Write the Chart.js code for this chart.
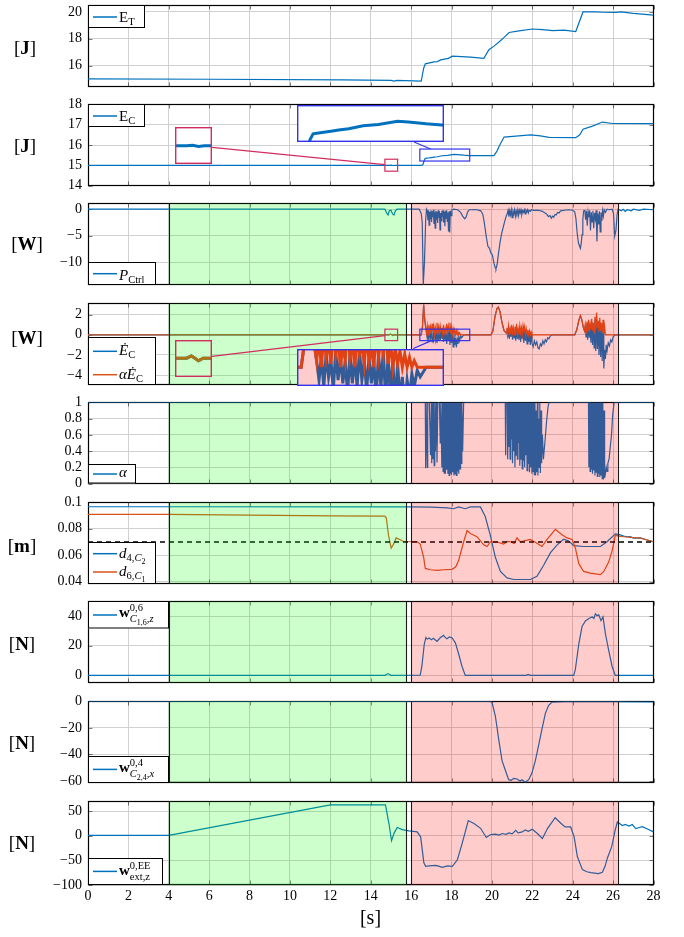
<!DOCTYPE html>
<html><head><meta charset="utf-8">
<script src="https://cdn.jsdelivr.net/npm/chart.js@4.4.1/dist/chart.umd.min.js"></script>
<style>
html,body{margin:0;padding:0;background:#fff}
#root{position:relative;width:684px;height:937px;overflow:hidden;background:#fff}
canvas{position:absolute;left:0}
.u{position:absolute;transform:translate(-50%,-50%);font-family:"Liberation Serif",serif;font-size:19px;color:#000;white-space:nowrap;line-height:1}
</style></head><body><div id="root"></div>
<script>
const BLUE='#0072BD', ORANGE='#D95319';
const xTicks=[0,2,4,6,8,10,12,14,16,18,20,22,24,26,28];
const greenSpan=[4,15.77], redSpan=[16.0,26.23];

const yTicksET=[16,18,20], yTicksEC=[14,15,16,17,18], yTicksP=[-10,-5,0], yTicksEdot=[-4,-2,0,2],
      yTicksAlpha=[0,0.2,0.4,0.6,0.8,1], yTicksD=[0.04,0.06,0.08,0.1], yTicksW16=[0,20,40],
      yTicksW24=[-60,-40,-20,0], yTicksWext=[-100,-50,0,50];

const ET=[[0,15.0],[6,14.98],[12.6,14.93],[15.0,14.9],[15.15,14.84],[15.3,14.9],[16.5,14.84],[16.62,15.8],[16.7,16.13],[17.13,16.28],[17.3,16.3],[17.46,16.42],[17.84,16.54],[18.04,16.7],[18.5,16.67],[18.95,16.63],[19.6,16.54],[19.85,17.18],[20.1,17.45],[20.35,17.76],[20.6,18.1],[20.85,18.47],[21.34,18.59],[22.0,18.73],[22.5,18.68],[23.0,18.61],[23.57,18.64],[24.15,18.54],[24.51,20.0],[25.14,20.0],[25.5,19.98],[26.13,19.97],[26.4,20.0],[27,19.9],[28,19.77]];

const EC=[[0,15.0],[14,15.0],[14.9,15.0],[15.0,15.01],[15.1,14.99],[15.2,15.0],[16.5,15.0],[16.58,15.03],[16.65,15.25],[16.7,15.34],[16.85,15.36],[17.0,15.38],[17.13,15.4],[17.3,15.42],[17.54,15.47],[17.8,15.49],[18.12,15.54],[18.3,15.53],[18.6,15.5],[18.86,15.48],[20.1,15.48],[20.25,15.7],[20.35,15.93],[20.6,16.39],[21.18,16.44],[21.92,16.5],[22.4,16.45],[22.83,16.38],[24.15,16.36],[24.35,16.5],[24.51,16.78],[24.98,16.93],[25.47,17.13],[25.97,17.06],[28,17.05]];

const PC=[[0,0],[14.7,0],[14.8,-0.8],[14.86,-1.1],[14.92,-0.3],[15.0,-0.2],[15.08,-0.9],[15.15,-1.1],[15.22,-0.3],[15.3,0],[16.4,0],[16.5,-0.8],[16.55,-2.5],[16.6,-14.3],[16.66,-10],[16.72,-2],[16.76,0],
[16.8,-0.3],[16.83,-2.1],[16.86,-0.2],[16.89,-3.0],[16.92,-0.5],[16.95,-1.8],[16.98,-0.2],[17.01,-2.4],[17.04,-0.4],[17.07,-1.5],[17.1,-0.1],[17.13,-2.8],[17.16,-0.6],[17.19,-3.6],[17.22,-0.3],[17.25,-1.9],[17.28,-0.5],[17.31,-2.6],[17.34,-0.2],[17.37,-1.6],[17.4,-0.4],[17.43,-3.9],[17.46,-0.7],[17.49,-2.2],[17.52,-0.3],[17.55,-1.4],[17.58,-0.2],[17.61,-2.5],[17.64,-0.5],[17.67,-3.2],[17.7,-0.3],[17.73,-1.7],[17.76,-0.2],[17.79,-2.3],[17.82,-0.6],[17.85,-4.2],[17.88,-0.4],[17.91,-4.4],[17.94,-0.3],[17.98,-1.2],[18.02,-0.1],[18.1,0],[18.3,-0.1],[18.45,-0.6],[18.55,-1.3],[18.65,-1.8],[18.72,-1.5],[18.8,-0.5],[18.88,-0.1],[19.0,-0.1],[19.2,-0.05],[19.45,-0.3],[19.55,-1.0],[19.62,-2.5],[19.72,-5.2],[19.8,-7.0],[19.88,-7.4],[19.95,-8.3],[20.02,-8.6],[20.1,-10.2],[20.16,-11.0],[20.2,-11.3],[20.26,-10.4],[20.32,-8.5],[20.4,-6.3],[20.48,-4.6],[20.56,-3.4],[20.62,-2.5],[20.7,-1.4],[20.76,-0.8],
[20.8,-0.2],[20.84,-1.4],[20.88,-0.3],[20.92,-1.1],[20.96,-0.1],[21.0,-1.6],[21.04,-0.4],[21.08,-0.9],[21.12,-0.1],[21.16,-1.3],[21.2,-0.3],[21.24,-0.8],[21.28,-0.1],[21.32,-1.2],[21.36,-0.2],[21.4,-0.7],[21.44,-0.1],[21.48,-1.0],[21.52,-0.3],[21.56,-0.6],[21.6,-0.1],[21.64,-0.9],[21.68,-0.2],[21.72,-0.5],[21.76,-0.1],[21.8,-0.7],[21.84,-0.2],[21.9,-0.4],[21.96,-0.1],[22.05,-0.2],[22.3,-0.2],[22.5,-0.4],[22.7,-0.9],[22.8,-1.4],[22.88,-1.2],[22.94,-1.7],[23.0,-1.3],[23.06,-1.5],[23.12,-1.0],[23.18,-1.1],[23.25,-0.6],[23.32,-0.7],[23.4,-0.3],[23.6,-0.2],[23.8,-0.1],[24.0,-0.2],[24.1,-0.5],[24.16,-1.8],[24.22,-4.5],[24.28,-6.3],[24.34,-7.0],[24.38,-7.4],[24.42,-6.5],[24.46,-4.8],[24.5,-2.0],[24.54,-0.3],
[24.6,-0.2],[24.64,-2.0],[24.68,-0.3],[24.72,-3.1],[24.76,-0.5],[24.8,-1.5],[24.84,-0.2],[24.88,-4.0],[24.92,-0.6],[24.96,-2.4],[25.0,-0.3],[25.04,-3.6],[25.08,-0.7],[25.12,-1.8],[25.16,-0.2],[25.2,-6.1],[25.24,-0.8],[25.28,-2.9],[25.32,-0.4],[25.36,-4.3],[25.4,-0.6],[25.44,-2.2],[25.48,-0.3],[25.52,-1.3],[25.56,-0.1],[25.62,-0.6],[25.7,0],[25.8,-0.1],[25.95,0],[26.02,-0.8],[26.08,-5.1],[26.14,-4.0],[26.2,-0.9],[26.25,0],[26.4,-0.3],[26.5,0],[26.6,-0.4],[26.7,-0.1],[26.9,-0.3],[27.0,0],[27.3,-0.2],[27.5,0],[28,-0.1]];

const dEC=[[0,0],[14.9,0],[14.98,0.07],[15.04,0],[15.1,-0.08],[15.18,0],[16.5,0],[16.56,0.8],[16.62,3.0],[16.66,1.8],[16.72,0.7],[16.76,0.2],
[16.8,-0.4],[16.84,0.3],[16.88,-0.6],[16.92,0.4],[16.96,-0.3],[17.0,0.2],[17.04,-0.7],[17.08,0.5],[17.12,-0.4],[17.16,0.3],[17.2,-0.5],[17.24,0.2],[17.28,-0.8],[17.32,0.4],[17.36,-0.5],[17.4,0.3],[17.44,-0.6],[17.48,0.5],[17.52,-0.4],[17.56,0.2],[17.6,-0.7],[17.64,0.3],[17.68,-0.5],[17.72,0.2],[17.76,-0.9],[17.8,0.4],[17.84,-0.6],[17.88,0.5],[17.92,-1.0],[17.96,0.3],[18.0,-0.8],[18.04,0.2],[18.08,-1.2],[18.12,0.1],[18.16,-1.0],[18.2,-0.3],[18.24,-1.25],[18.28,-0.4],[18.32,-0.9],[18.36,-0.2],[18.4,-0.6],[18.45,-0.1],[18.5,-0.3],[18.6,0],
[19.95,0],[20.05,0.4],[20.15,1.8],[20.25,2.6],[20.32,2.75],[20.4,2.3],[20.5,1.2],[20.6,0.4],[20.7,0.2],
[20.74,0.5],[20.78,-0.3],[20.82,0.6],[20.86,-0.4],[20.9,0.4],[20.94,-0.2],[20.98,0.7],[21.02,-0.5],[21.06,0.5],[21.1,-0.3],[21.14,0.6],[21.18,-0.6],[21.22,0.7],[21.26,-0.4],[21.3,0.4],[21.34,-0.5],[21.38,0.6],[21.42,-0.7],[21.46,0.5],[21.5,-0.4],[21.54,0.6],[21.58,-0.8],[21.62,0.5],[21.66,-0.6],[21.7,0.4],[21.74,-0.9],[21.78,0.3],[21.82,-0.7],[21.86,0.2],[21.9,-1.0],[21.94,0.1],[21.98,-0.8],[22.04,-1.2],[22.1,-0.6],[22.16,-1.0],[22.22,-0.7],[22.28,-1.3],[22.34,-1.4],[22.4,-0.9],[22.46,-1.1],[22.52,-0.6],[22.58,-0.9],[22.64,-0.5],[22.7,-0.7],[22.76,-0.3],[22.82,-0.4],[22.9,-0.1],[23.0,0],
[24.1,0],[24.2,0.5],[24.3,1.4],[24.38,1.9],[24.45,1.5],[24.52,0.8],[24.58,0.4],
[24.62,0.8],[24.66,-0.2],[24.7,1.0],[24.74,-0.5],[24.78,1.2],[24.82,-0.3],[24.86,0.9],[24.9,-0.8],[24.94,1.3],[24.98,-1.0],[25.02,1.0],[25.06,-1.3],[25.1,1.5],[25.14,-1.6],[25.18,1.8],[25.22,-1.4],[25.26,1.1],[25.3,-2.0],[25.34,1.2],[25.38,-2.2],[25.42,0.9],[25.46,-2.6],[25.5,1.0],[25.54,-3.35],[25.58,-1.5],[25.62,-2.4],[25.66,-1.0],[25.7,-1.6],[25.76,-0.8],[25.82,-1.1],[25.88,-0.5],[25.94,-0.7],[26.0,-0.2],[26.1,0],[28,0]];

const adEC=[[0,0],[14.9,0],[14.98,0.07],[15.04,0],[15.1,-0.08],[15.18,0],[16.5,0],[16.56,0.8],[16.62,3.0],[16.66,1.8],[16.72,0.7],[16.76,0.2],
[16.8,0.9],[16.84,0.0],[16.88,1.0],[16.92,0.3],[16.96,0.8],[17.0,0.1],[17.04,1.1],[17.08,0.4],[17.12,0.9],[17.16,0.0],[17.2,0.7],[17.24,0.2],[17.28,1.2],[17.32,0.3],[17.36,0.8],[17.4,0.0],[17.44,0.9],[17.48,0.4],[17.52,0.7],[17.56,0.1],[17.6,1.0],[17.64,0.2],[17.68,0.6],[17.72,0.0],[17.76,1.1],[17.8,0.3],[17.84,0.9],[17.88,0.4],[17.92,1.2],[17.96,0.1],[18.0,0.8],[18.04,0.0],[18.08,0.6],[18.12,0.1],[18.16,0.5],[18.2,0.0],[18.24,0.4],[18.28,0.0],[18.32,0.3],[18.36,0.0],[18.4,0.2],[18.45,0],[18.6,0],
[19.95,0],[20.05,0.4],[20.15,1.8],[20.25,2.6],[20.32,2.75],[20.4,2.3],[20.5,1.2],[20.6,0.4],[20.7,0.2],
[20.74,0.7],[20.78,0.0],[20.82,0.9],[20.86,0.2],[20.9,0.6],[20.94,0.0],[20.98,1.0],[21.02,0.2],[21.06,0.7],[21.1,0.0],[21.14,0.8],[21.18,0.3],[21.22,1.1],[21.26,0.1],[21.3,0.6],[21.34,0.0],[21.38,0.9],[21.42,0.2],[21.46,0.7],[21.5,0.0],[21.54,0.9],[21.58,0.3],[21.62,0.8],[21.66,0.0],[21.7,0.6],[21.74,0.1],[21.78,0.5],[21.82,0.0],[21.86,0.4],[21.9,0.0],[21.94,0.3],[21.98,0],[22.05,0],
[24.1,0],[24.2,0.5],[24.3,1.4],[24.38,1.9],[24.45,1.5],[24.52,0.8],[24.58,0.4],
[24.62,1.0],[24.66,0.2],[24.7,1.3],[24.74,0.4],[24.78,1.5],[24.82,0.3],[24.86,1.1],[24.9,0.5],[24.94,1.6],[24.98,0.4],[25.02,1.2],[25.06,0.2],[25.1,1.8],[25.14,0.5],[25.18,2.2],[25.22,0.7],[25.26,1.4],[25.3,0.3],[25.34,1.7],[25.38,0.4],[25.42,1.2],[25.46,0.2],[25.5,1.5],[25.54,0.1],[25.58,0.8],[25.62,0],[28,0]];

const alpha=[[0,1],[16.7,1],[16.72,0.19],[16.74,1],[16.78,1],[16.8,0.2],[16.82,1],[16.9,1],[16.96,0.35],[17.0,1],[17.02,0.25],[17.05,1],[17.08,0.3],[17.1,1],[17.14,0.22],[17.17,1],[17.2,0.4],[17.24,1],[17.28,0.26],[17.32,1],[17.4,1],[17.44,0.5],[17.47,1],[17.52,0.2],[17.55,1],[17.58,0.15],[17.61,1],[17.64,0.13],[17.67,1],[17.7,0.12],[17.73,1],[17.76,0.17],[17.79,1],[17.82,0.12],[17.85,1],[17.88,0.1],[17.91,1],[17.94,0.13],[17.97,1],[18.0,0.11],[18.03,1],[18.06,0.14],[18.09,1],[18.12,0.1],[18.15,1],[18.18,0.12],[18.21,1],[18.24,0.1],[18.27,1],[18.3,0.15],[18.33,1],[18.36,0.12],[18.39,1],[18.42,0.18],[18.45,1],[18.48,0.25],[18.51,1],[18.55,0.4],[18.6,1],
[20.66,1],[20.68,0.35],[20.7,1],[20.76,1],[20.78,0.3],[20.8,1],[20.84,0.45],[20.87,1],[20.9,0.3],[20.93,1],[20.96,0.55],[20.99,1],[21.02,0.25],[21.05,1],[21.08,0.4],[21.11,1],[21.14,0.2],[21.17,1],[21.2,0.35],[21.23,1],[21.26,0.3],[21.29,1],[21.32,0.5],[21.35,1],[21.38,0.22],[21.41,1],[21.44,0.3],[21.47,1],[21.5,0.18],[21.53,1],[21.56,0.28],[21.59,1],[21.62,0.2],[21.65,1],[21.68,0.35],[21.71,1],[21.74,0.16],[21.77,1],[21.8,0.25],[21.83,1],[21.86,0.14],[21.89,1],[21.92,0.2],[21.95,1],[21.98,0.12],[22.01,1],[22.04,0.15],[22.07,1],[22.1,0.11],[22.13,1],[22.16,0.1],[22.19,0.9],[22.22,0.14],[22.25,1],[22.28,0.1],[22.31,0.8],[22.34,0.2],[22.37,1],[22.4,0.13],[22.43,0.9],[22.46,0.25],[22.5,0.6],[22.55,0.3],[22.62,0.5],[22.7,0.75],[22.78,0.95],[22.83,1],
[24.78,1],[24.8,0.2],[24.83,1],[24.86,0.15],[24.89,1],[24.92,0.18],[24.95,1],[24.98,0.12],[25.01,1],[25.04,0.16],[25.07,1],[25.1,0.1],[25.13,1],[25.16,0.14],[25.19,1],[25.22,0.09],[25.25,1],[25.28,0.12],[25.31,1],[25.34,0.08],[25.37,1],[25.4,0.1],[25.43,1],[25.46,0.06],[25.49,1],[25.52,0.05],[25.55,0.9],[25.58,0.07],[25.62,0.12],[25.66,0.2],[25.7,0.15],[25.74,0.25],[25.8,0.3],[25.86,0.45],[25.92,0.6],[25.98,0.85],[26.05,1],[28,1]];

const d4=[[0,0.0967],[4,0.0967],[16,0.0966],[17,0.0964],[17.8,0.0958],[18.1,0.0952],[18.35,0.0966],[18.68,0.0952],[18.93,0.0966],[19.43,0.0966],[19.67,0.0893],[19.92,0.0750],[20.17,0.0584],[20.42,0.0477],[20.75,0.0428],[21.08,0.0416],[21.9,0.0416],[22.23,0.0441],[22.56,0.0524],[22.9,0.0619],[23.23,0.0678],[23.55,0.0721],[23.8,0.0707],[24.05,0.0673],[24.54,0.0666],[25.37,0.0666],[25.7,0.0702],[26.11,0.0762],[26.3,0.0756],[26.53,0.0745],[26.7,0.0740],[26.86,0.0741],[27.0,0.0730],[27.35,0.0731],[27.7,0.0715],[28,0.0702]];

const d6=[[0,0.0909],[4,0.0909],[8,0.0903],[12,0.0898],[14.7,0.0896],[14.77,0.0883],[14.88,0.0750],[15.01,0.0653],[15.13,0.0684],[15.26,0.0731],[15.46,0.0717],[15.62,0.0704],[16.3,0.0702],[16.45,0.0684],[16.62,0.0584],[16.7,0.0500],[16.95,0.0490],[17.3,0.0485],[17.6,0.0490],[18.02,0.0493],[18.2,0.0510],[18.35,0.0559],[18.6,0.0702],[18.77,0.0786],[18.93,0.0765],[19.26,0.0740],[19.59,0.0679],[19.76,0.0666],[19.92,0.0702],[20.25,0.0700],[20.58,0.0684],[20.75,0.0704],[20.91,0.0702],[21.1,0.0689],[21.24,0.0731],[21.4,0.0702],[21.6,0.0709],[21.9,0.0720],[22.15,0.0699],[22.48,0.0666],[22.73,0.0720],[23.14,0.0796],[23.47,0.0755],[23.72,0.0731],[23.97,0.0720],[24.13,0.0655],[24.3,0.0536],[24.54,0.0477],[24.87,0.0464],[25.37,0.0453],[25.54,0.0477],[25.78,0.0548],[25.95,0.0633],[26.11,0.0750],[26.3,0.0745],[26.53,0.0740],[26.86,0.0735],[27.35,0.0730],[28,0.0702]];

const dLimit=[[0,0.07],[28,0.07]];

const w16=[[0,0],[14.7,0],[14.85,1.2],[15.0,0],[16.45,0.2],[16.53,6],[16.65,21],[16.73,25.6],[16.8,24.5],[16.9,25.2],[17.0,24],[17.1,25],[17.28,23],[17.44,25.4],[17.6,27],[17.7,25.5],[17.77,24.7],[17.9,26],[18.02,25.4],[18.19,22],[18.35,14.6],[18.52,6],[18.68,0],[21.7,0],[21.8,0.6],[21.9,0],[24.05,0],[24.13,4],[24.3,21],[24.46,33],[24.63,36.8],[24.8,38.4],[24.96,39.5],[25.05,38.5],[25.12,41.6],[25.2,40.5],[25.29,41],[25.4,37],[25.5,39.5],[25.62,28],[25.78,17],[25.95,6],[26.11,0],[28,0]];

const w24=[[0,0],[19.9,0],[20.0,-0.5],[20.17,-11],[20.33,-28],[20.5,-44.6],[20.66,-51.7],[20.83,-59],[20.95,-59.5],[21.08,-58],[21.24,-58.5],[21.4,-60],[21.49,-59],[21.65,-61],[21.82,-59],[21.98,-54],[22.15,-44.6],[22.32,-32.6],[22.48,-20.7],[22.65,-8.8],[22.81,-3],[22.98,-0.5],[23.88,0],[28,-0.3]];

const wext=[[0,1],[4,1],[12,63],[14.73,63],[14.9,25],[15.03,-10],[15.15,5],[15.31,17],[15.56,12.7],[15.89,10],[16.3,8],[16.47,-2],[16.63,-55],[16.72,-62],[16.9,-61],[17.2,-60],[17.4,-62],[17.54,-64],[17.8,-61],[18.04,-62],[18.29,-48.7],[18.53,-15],[18.83,31],[19.11,25],[19.44,15.3],[19.72,-3.3],[19.94,2.7],[20.18,3.3],[20.35,1.5],[20.51,4.7],[20.7,3],[20.84,6],[21.0,4],[21.18,11],[21.3,6],[21.5,8],[21.65,12],[21.8,9],[22.0,13.3],[22.25,4.7],[22.5,-5.3],[22.75,14.7],[23.13,36.7],[23.4,26],[23.62,18],[23.9,18],[24.07,-2],[24.23,-42],[24.48,-68.7],[24.7,-73],[24.9,-75],[25.27,-76.7],[25.47,-74],[25.6,-62],[25.72,-45],[25.93,-22],[26.1,11],[26.21,28],[26.46,21],[26.6,23],[26.79,20],[26.95,23],[27.12,14.7],[27.3,17],[27.45,18.7],[27.7,14],[28,8]];

/* ---------- rendering helpers ---------- */
const FONT='"Liberation Serif","Times New Roman",serif';
const root=document.getElementById('root');
const toXY=a=>a.map(p=>({x:p[0],y:p[1]}));
const fmt=v=>String(Math.round(v*1e6)/1e6).replace('-','\u2212');
const SUBS={'0':[15,0],'1':[10.5,-6],'-1':[10.5,3],'-2':[8,5.5],'-3':[10.5,5],'-4':[8,7.5]};
function seg(ctx,s,x,y){const q=SUBS[String(s.l||0)];ctx.font=(s.it?'italic ':'')+(s.b?'bold ':'')+q[0]+'px '+FONT;ctx.fillText(s.t,x,y+q[1]);return x+ctx.measureText(s.t).width;}
function rich(ctx,segs,x,y){for(const s of segs){if(s.stack){let w=0;for(const part of s.stack){let xx=x;for(const q of part)xx=seg(ctx,q,xx,y);w=Math.max(w,xx-x);}x+=w;}else x=seg(ctx,s,x,y);}}

function regionPlugin(on){return{id:'regions',afterDatasetsDraw(chart){if(!on)return;const{ctx,chartArea:a,scales:{x}}=chart;ctx.save();ctx.beginPath();ctx.rect(a.left,a.top,a.right-a.left,a.bottom-a.top);ctx.clip();
 [[greenSpan,'rgba(0,255,0,0.2)'],[redSpan,'rgba(255,0,0,0.2)']].forEach(([sp,col])=>{const x0=x.getPixelForValue(sp[0]),x1=x.getPixelForValue(sp[1]);ctx.fillStyle=col;ctx.fillRect(x0,a.top,x1-x0,a.bottom-a.top);ctx.strokeStyle='#1a1a1a';ctx.lineWidth=1.1;[x0,x1].forEach(px=>{const r=Math.round(px)+0.5;ctx.beginPath();ctx.moveTo(r,a.top);ctx.lineTo(r,a.bottom);ctx.stroke();});});
 ctx.restore();}};}

function framePlugin(p){return{id:'frame',
 beforeDatasetsDraw(chart){const{ctx,chartArea:a,scales:{x,y}}=chart;ctx.save();
  const L=Math.round(a.left)+0.5,R=Math.round(a.right)-0.5,T=Math.round(a.top)+0.5,B=Math.round(a.bottom)-0.5;
  ctx.strokeStyle='rgba(0,0,0,0.5)';ctx.lineWidth=1;ctx.beginPath();
  xTicks.forEach(v=>{const px=Math.round(x.getPixelForValue(v))+0.5;ctx.moveTo(px,T);ctx.lineTo(px,T+4);ctx.moveTo(px,B);ctx.lineTo(px,B-4);});
  p.yt.forEach(v=>{const py=Math.round(y.getPixelForValue(v))+0.5;ctx.moveTo(L,py);ctx.lineTo(L+4,py);ctx.moveTo(R,py);ctx.lineTo(R-4,py);});
  ctx.stroke();
  ctx.strokeStyle='#000';ctx.lineWidth=1.2;ctx.strokeRect(L,T,R-L,B-T);ctx.restore();},
 afterDraw(chart){const{ctx,chartArea:a}=chart;ctx.save();
  const g=p.legend;const bx=Math.round(a.left),by=Math.round(g.at==='top'?a.top:a.bottom-g.h);
  ctx.fillStyle='#fff';ctx.fillRect(bx,by,g.w,g.h);ctx.strokeStyle='#000';ctx.lineWidth=1;ctx.strokeRect(bx+0.5,by+0.5,g.w,g.h-1);
  g.rows.forEach(r=>{ctx.strokeStyle=r.c;ctx.lineWidth=1.5;ctx.beginPath();ctx.moveTo(bx+5,by+r.ly);ctx.lineTo(bx+29,by+r.ly);ctx.stroke();ctx.fillStyle='#000';ctx.textBaseline='alphabetic';rich(ctx,r.t,bx+31,by+r.by);});
  ctx.restore();}};}

/* ---------- panels ---------- */
const wLeg=(sup,sub)=>[{t:'w',b:1},{stack:[sup,sub]}];
const panels=[
 {top:3,min:14.43,max:20.49,yt:yTicksET,reg:false,unit:['[J]',25,46.7],series:[{d:ET,c:BLUE}],
  legend:{at:'top',w:56,h:23,rows:[{c:BLUE,ly:12,by:16.5,t:[{t:'E'},{t:'T',l:-1}]}]}},
 {top:102,min:14,max:18,yt:yTicksEC,reg:false,unit:['[J]',25,145],series:[{d:EC,c:BLUE}],
  legend:{at:'top',w:56,h:23,rows:[{c:BLUE,ly:12,by:16.5,t:[{t:'E'},{t:'C',l:-1}]}]}},
 {top:201,min:-14.25,max:1.1,yt:yTicksP,reg:true,unit:['[W]',27,243.3],series:[{d:PC,c:BLUE}],
  legend:{at:'bottom',w:67,h:23,rows:[{c:BLUE,ly:11.7,by:17.5,t:[{t:'P',it:1},{t:'Ctrl',l:-1}]}]}},
 {top:301,min:-4.95,max:3.12,yt:yTicksEdot,reg:true,unit:['[W]',27,336.7],series:[{d:dEC,c:BLUE},{d:adEC,c:ORANGE}],
  legend:{at:'bottom',w:67,h:48,rows:[{c:BLUE,ly:14.3,by:18,t:[{t:'\u0116',it:1},{t:'C',l:-1}]},{c:ORANGE,ly:37.7,by:42,t:[{t:'\u03b1',it:1},{t:'\u0116',it:1},{t:'C',l:-1}]}]}},
 {top:400,min:0,max:1,yt:yTicksAlpha,reg:true,unit:null,series:[{d:alpha,c:BLUE}],
  legend:{at:'bottom',w:47,h:19.5,rows:[{c:BLUE,ly:10,by:13,t:[{t:'\u03b1',it:1}]}]}},
 {top:500,min:0.0385,max:0.1,yt:yTicksD,reg:true,unit:['[m]',22,545.3],series:[{d:d4,c:BLUE},{d:d6,c:ORANGE},{d:dLimit,c:'#000',w:1.6,dash:[5,4]}],
  legend:{at:'bottom',w:67,h:42,rows:[{c:BLUE,ly:11.7,by:16,t:[{t:'d',it:1},{t:'4,',l:-1},{t:'C',l:-1,it:1},{t:'2',l:-2}]},{c:ORANGE,ly:30,by:34.3,t:[{t:'d',it:1},{t:'6,',l:-1},{t:'C',l:-1,it:1},{t:'1',l:-2}]}]}},
 {top:599,min:-4.9,max:50,yt:yTicksW16,reg:true,unit:['[N]',22,643.3],series:[{d:w16,c:BLUE}],
  legend:{at:'top',w:80,h:27.5,rows:[{c:BLUE,ly:14,by:16,t:wLeg([{t:'0,6',l:1}],[{t:'C',l:-3,it:1},{t:'1,6',l:-4},{t:',',l:-3},{t:'z',l:-3,it:1}])}]}},
 {top:699,min:-61.2,max:0,yt:yTicksW24,reg:true,unit:['[N]',22,741.7],series:[{d:w24,c:BLUE}],
  legend:{at:'bottom',w:80,h:27,rows:[{c:BLUE,ly:13.4,by:16,t:wLeg([{t:'0,4',l:1}],[{t:'C',l:-3,it:1},{t:'2,4',l:-4},{t:',',l:-3},{t:'x',l:-3,it:1}])}]}},
 {top:799,min:-100,max:70,yt:yTicksWext,reg:true,unit:['[N]',22,841.7],series:[{d:wext,c:BLUE}],last:true,
  legend:{at:'bottom',w:74,h:27,rows:[{c:BLUE,ly:13.4,by:17,t:wLeg([{t:'0,EE',l:1}],[{t:'ext,z',l:-3}])}]}}
];

const PAD=12,PH=86;
const charts=[];
const tickFont={family:FONT,size:14};
const mkSets=(p,bw)=>p.series.map((s,i)=>({data:toXY(s.d),borderColor:s.c,borderWidth:bw||s.w||1.2,borderDash:s.dash||[],pointRadius:0,tension:0,fill:false,order:p.series.length-i}));
panels.forEach(p=>{
 const cv=document.createElement('canvas');
 const H=p.last?PAD+PH+30+10:PAD+PH+PAD;
 cv.width=684;cv.height=H;cv.style.top=(p.top-PAD)+'px';cv.style.width='684px';cv.style.height=H+'px';
 root.appendChild(cv);
 const ch=new Chart(cv,{type:'line',
  data:{datasets:mkSets(p)},
  options:{responsive:false,animation:false,devicePixelRatio:1,events:[],
   layout:{padding:{top:PAD,bottom:p.last?10:PAD,left:0,right:30.5}},
   plugins:{legend:{display:false},tooltip:{enabled:false}},
   scales:{
    x:{type:'linear',min:0,max:28,afterBuildTicks:s=>{s.ticks=xTicks.map(v=>({value:v}));},
       ticks:{display:!!p.last,font:tickFont,color:'#000',padding:3,autoSkip:false,maxRotation:0,callback:v=>fmt(v)},
       grid:{color:'#d0d0d0',lineWidth:1,drawTicks:false},border:{display:false},
       afterFit:s=>{s.height=p.last?30:0;}},
    y:{type:'linear',min:p.min,max:p.max,afterBuildTicks:s=>{s.ticks=p.yt.map(v=>({value:v}));},
       ticks:{font:tickFont,color:'#000',padding:6,autoSkip:false,callback:v=>fmt(v)},
       grid:{color:'#d0d0d0',lineWidth:1,drawTicks:false},border:{display:false},
       afterFit:s=>{s.width=88;}}
   }},
  plugins:[regionPlugin(p.reg),framePlugin(p)]});
 charts.push({ch,top:p.top-PAD,p});
 if(p.unit){const d=document.createElement('div');d.className='u';const u=p.unit[0];d.innerHTML='['+'<b>'+u.slice(1,-1)+'</b>]';d.style.left=p.unit[1]+'px';d.style.top=p.unit[2]+'px';root.appendChild(d);}
});
const xl=document.createElement('div');xl.className='u';xl.textContent='[s]';xl.style.left='370.5px';xl.style.top='917px';xl.style.fontSize='20px';root.appendChild(xl);

/* ---------- spy (zoom) insets ---------- */
const SPY_RED='#d22d5f', SPY_BLUE='#3333ee';
const spies=[
 {panel:1,src:[14.7,15.33,14.71,15.3],dst:[175,127,37,37],col:SPY_RED},
 {panel:1,src:[16.43,18.9,15.21,15.8],dst:[297,105,147,37],col:SPY_BLUE},
 {panel:3,src:[14.7,15.33,-0.58,0.56],dst:[175,340,37,37],col:SPY_RED},
 {panel:3,src:[16.43,18.9,-0.58,0.56],dst:[297,348.5,147,37],col:SPY_BLUE}
];
const ov=document.createElement('canvas');ov.width=684;ov.height=937;ov.style.top='0px';root.appendChild(ov);
const octx=ov.getContext('2d');
spies.forEach(s=>{
 const c=charts[s.panel];const xs=c.ch.scales.x,ys=c.ch.scales.y;
 const x0=xs.getPixelForValue(s.src[0]),x1=xs.getPixelForValue(s.src[1]);
 const y0=ys.getPixelForValue(s.src[3])+c.top,y1=ys.getPixelForValue(s.src[2])+c.top;
 octx.strokeStyle=s.col;octx.lineWidth=1.2;octx.strokeRect(x0,y0,x1-x0,y1-y0);
 const [L,T,W,H]=s.dst;
 const c1=[L+W/2,T+H/2],c2=[(x0+x1)/2,(y0+y1)/2];const dx=c2[0]-c1[0],dy=c2[1]-c1[1];
 const t1=Math.min((W/2)/Math.abs(dx),(H/2)/Math.abs(dy));const t2=Math.min(((x1-x0)/2)/Math.abs(dx),((y1-y0)/2)/Math.abs(dy));
 octx.beginPath();octx.moveTo(c1[0]+dx*t1,c1[1]+dy*t1);octx.lineTo(c2[0]-dx*t2,c2[1]-dy*t2);octx.stroke();
 const cv=document.createElement('canvas');cv.width=W;cv.height=H;cv.style.left=L+'px';cv.style.top=T+'px';cv.style.width=W+'px';cv.style.height=H+'px';root.appendChild(cv);
 const p=c.p;
 new Chart(cv,{type:'line',
  data:{datasets:mkSets(p,3)},
  options:{responsive:false,animation:false,devicePixelRatio:1,events:[],layout:{padding:0},
   plugins:{legend:{display:false},tooltip:{enabled:false}},
   scales:{x:{type:'linear',display:false,min:s.src[0],max:s.src[1]},y:{type:'linear',display:false,min:s.src[2],max:s.src[3]}}},
  plugins:[{id:'bg',beforeDraw(ch){ch.ctx.save();ch.ctx.fillStyle='#fff';ch.ctx.fillRect(0,0,ch.width,ch.height);ch.ctx.restore();}},
   regionPlugin(p.reg),
   {id:'bd',afterDraw(ch){const g=ch.ctx;g.save();g.strokeStyle=s.col;g.lineWidth=1.4;g.strokeRect(0.7,0.7,ch.width-1.4,ch.height-1.4);g.restore();}}]});
});
</script></body></html>
